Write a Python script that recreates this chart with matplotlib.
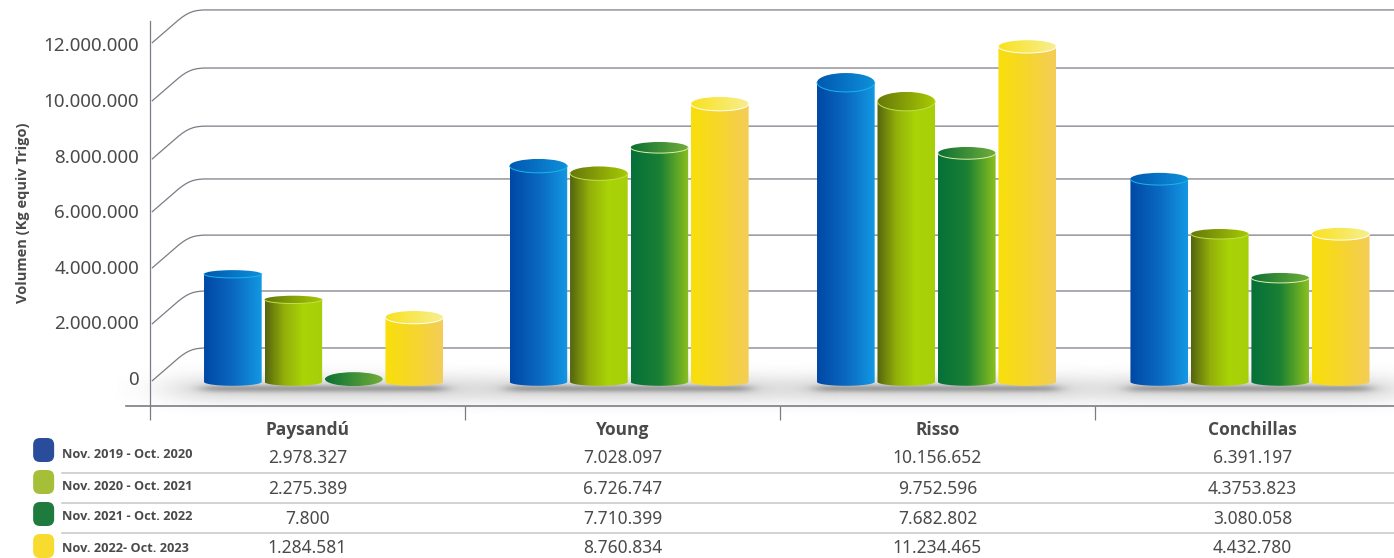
import numpy as np
import matplotlib
matplotlib.use('Agg')
import matplotlib.pyplot as plt
from matplotlib.colors import LinearSegmentedColormap
from matplotlib.patches import Ellipse, FancyBboxPatch, Polygon, PathPatch
from matplotlib.path import Path

plt.rcParams['font.family'] = ['Noto Sans', 'DejaVu Sans']
BOLD_FONT = ['Open Sans', 'DejaVu Sans']

categories = ['Paysandú', 'Young', 'Risso', 'Conchillas']
periods = ['Nov. 2019 - Oct. 2020', 'Nov. 2020 - Oct. 2021',
           'Nov. 2021 - Oct. 2022', 'Nov. 2022- Oct. 2023']
table_values = [
    ['2.978.327', '7.028.097', '10.156.652', '6.391.197'],
    ['2.275.389', '6.726.747', '9.752.596', '4.3753.823'],
    ['7.800', '7.710.399', '7.682.802', '3.080.058'],
    ['1.284.581', '8.760.834', '11.234.465', '4.432.780'],
]

y_ticks = [0, 2, 4, 6, 8, 10, 12]
y_labels = ['0', '2.000.000', '4.000.000', '6.000.000', '8.000.000', '10.000.000', '12.000.000']

# bar heights as drawn against the axis (millions), one row per period
bar_tops = [
    [3.74, 7.63, 10.63, 7.16],
    [2.82, 7.36, 9.95, 5.18],
    [-0.04, 8.29, 8.09, 3.60],
    [2.18, 9.86, 11.92, 5.18],
]
# half height of the top ellipse of each cylinder
top_depth = [
    [0.14, 0.25, 0.34, 0.22],
    [0.14, 0.25, 0.34, 0.18],
    [0.25, 0.20, 0.22, 0.18],
    [0.23, 0.25, 0.23, 0.22],
]
group_x = [0.551, 1.521, 2.497, 3.492]
grid_back = [13.24, 11.15, 9.06, 7.16, 5.14, 3.13, 1.08]

BAR_STEP = 0.192
BAR_W = 0.183
BASE = -0.14
BASE_DEPTH = 0.14
GREY = '#7c7c86'
TXT = '#4a4a4a'

body_cm = [
    ['#0048a5', '#0a68c0', '#1398e4'],
    ['#54640f', '#92b00a', '#aad406', '#a6cf0a'],
    ['#05703a', '#1a8034', '#8cc01e'],
    ['#f9df0a', '#f6d62c', '#f4cd58'],
]
top_cm = [
    ['#0058b0', '#0f90da'],
    ['#66780a', '#a8ca04'],
    ['#0a7034', '#72ae3a'],
    ['#f9e21e', '#f7ee90'],
]
rim_colors = ['#19b6ea', '#bfe04a', '#dff0a8', '#ffffff']
swatch_colors = ['#2a4d9b', '#a5c038', '#1f7a3d', '#f7dc2f']

fig = plt.figure(figsize=(13.94, 5.58), dpi=100)
ax = fig.add_axes([150 / 1394, 152 / 558, 1244 / 1394, 406 / 558])
x_max = 1244 / 315
y_min, y_max = -1.007, 13.597
gradient = np.linspace(0, 1, 256).reshape(1, -1)

# curved back-wall lines
for b in grid_back:
    verts = [(0.006, b - 1.19), (0.083, b - 0.435), (0.121, b - 0.055), (0.143, b), (0.181, b), (x_max, b)]
    codes = [Path.MOVETO, Path.LINETO, Path.CURVE4, Path.CURVE4, Path.CURVE4, Path.LINETO]
    ax.add_patch(PathPatch(Path(verts, codes), fc='none', ec=GREY, lw=0.9, zorder=1))

# soft floor shadows
u = np.linspace(-1, 1, 300)
v = np.linspace(-1, 1, 120)
uu, vv = np.meshgrid(u, v)
for gx in group_x:
    plateau = 0.5 * (np.tanh((uu + 0.72) * 6) - np.tanh((uu - 0.72) * 6))
    wide = np.zeros(uu.shape + (4,))
    wide[..., :3] = 0.3
    wide[..., 3] = 0.22 * plateau * np.exp(-(vv / 0.5) ** 2)
    im = ax.imshow(wide, extent=[gx - 0.66, gx + 0.66, -1.4, 0.6], aspect='auto', zorder=2)
    im.set_clip_on(False)
    tight = np.zeros(uu.shape + (4,))
    tight[..., :3] = 0.25
    plateau = 0.5 * (np.tanh((uu + 0.84) * 14) - np.tanh((uu - 0.84) * 14))
    tight[..., 3] = 0.38 * plateau * np.exp(-(vv / 0.5) ** 2)
    ax.imshow(tight, extent=[gx - 0.46, gx + 0.46, -0.66, -0.14], aspect='auto', zorder=2)

# cylinders
for s in range(4):
    body = LinearSegmentedColormap.from_list('body', body_cm[s])
    lid = LinearSegmentedColormap.from_list('lid', top_cm[s])
    for g in range(4):
        x0 = group_x[g] + (s - 1.5) * BAR_STEP - BAR_W / 2
        x1 = x0 + BAR_W
        xc = (x0 + x1) / 2
        top = bar_tops[s][g]
        depth = top_depth[s][g]
        if top > 0.3:
            t = np.linspace(0, np.pi, 60)
            arc_x = xc + BAR_W / 2 * np.cos(t)
            arc_y = BASE - BASE_DEPTH * np.sin(t)
            outline = np.column_stack([np.r_[x0, x1, arc_x], np.r_[top, top, arc_y]])
            clip = Polygon(outline, fc='none', ec='none', transform=ax.transData)
            ax.add_patch(clip)
            im = ax.imshow(gradient, cmap=body, extent=[x0, x1, BASE - BASE_DEPTH, top],
                           aspect='auto', interpolation='bilinear', zorder=3 + s)
            im.set_clip_path(clip)
        cap = Ellipse((xc, top), BAR_W, 2 * depth, fc='none', ec='none', transform=ax.transData)
        ax.add_patch(cap)
        im = ax.imshow(gradient, cmap=lid, extent=[x0, x1, top - depth, top + depth],
                       aspect='auto', interpolation='bilinear', zorder=3 + s)
        im.set_clip_path(cap)
        if top > 0.3:
            t = np.linspace(0, np.pi, 60)
            ax.plot(xc + BAR_W / 2 * np.cos(t), top - depth * np.sin(t), color=rim_colors[s],
                    lw=0.7, zorder=3 + s)

ax.set_xlim(0, x_max)
ax.set_ylim(y_min, y_max)
ax.patch.set_alpha(0)
for side in ['top', 'right', 'bottom']:
    ax.spines[side].set_visible(False)
ax.spines['left'].set_bounds(y_min, 12.84)
ax.spines['left'].set_color(GREY)
ax.spines['left'].set_linewidth(0.9)
ax.plot([-0.076, x_max], [y_min, y_min], color=GREY, lw=1.2, clip_on=False, zorder=8)

ax.set_yticks(y_ticks, y_labels)
ax.tick_params(axis='y', length=0, pad=8, labelsize=13.5, labelcolor=TXT)
ax.set_xticks(range(4), [''] * 4)
ax.tick_params(axis='x', which='major', length=10, width=0.9, color=GREY)
ax.set_xticks(np.arange(4) + 0.5, categories, minor=True)
ax.tick_params(axis='x', which='minor', length=0, pad=11, labelsize=12.5, labelcolor=TXT)
for lab in ax.get_xticklabels(minor=True):
    lab.set_family(BOLD_FONT)
    lab.set_fontweight('bold')
ax.set_ylabel('Volumen (Kg equiv Trigo)', fontsize=10.5, fontweight='bold', color=TXT, family=BOLD_FONT)
ax.yaxis.set_label_coords(-120 / 1244, 193 / 406)

# table under the chart, y in image rows
tab = fig.add_axes([0, 0, 1, 152 / 558])
tab.set_xlim(-150 / 315, x_max)
tab.set_ylim(558, 406)
tab.axis('off')

value_rows = [458, 489, 519, 548]
label_rows = [454, 486, 517, 549]
swatch_rows = [438, 470, 502, 534]
line_rows = [473, 503, 533]

for y in line_rows:
    tab.plot([-0.279, x_max], [y, y], color='#c6c6ca', lw=1.1)
for i in range(4):
    box = FancyBboxPatch((-0.371, swatch_rows[i]), 0.0667, 24, fc=swatch_colors[i], ec='none',
                         boxstyle='round,pad=0,rounding_size=0.022', mutation_aspect=315)
    tab.add_patch(box)
    tab.text(-0.279, label_rows[i], periods[i], fontsize=9.2, fontweight='bold', color=TXT,
             family=BOLD_FONT, ha='left', va='center')
    for g in range(4):
        tab.text(g + 0.5, value_rows[i], table_values[i][g], fontsize=12.5, color=TXT,
                 ha='center', va='center')

plt.savefig('out.png', dpi=100)
